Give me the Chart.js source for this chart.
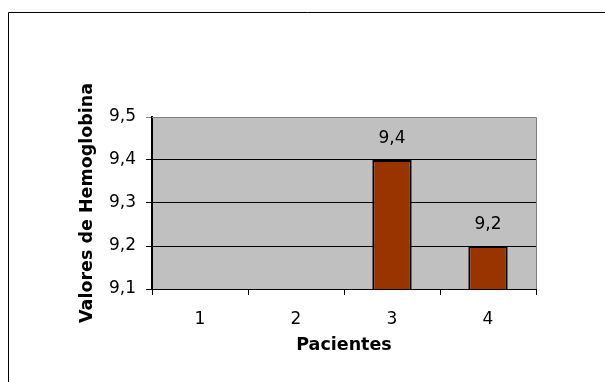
<!DOCTYPE html>
<html>
<head>
<meta charset="utf-8">
<script src="https://cdn.jsdelivr.net/npm/chart.js@4/dist/chart.umd.min.js"></script>
<style>
  html, body { margin: 0; padding: 0; background: #fff; }
  canvas { display: block; }
</style>
</head>
<body>
<canvas id="c" width="605" height="382"></canvas>
<script>
// Hemoglobin values per patient (patients 1 and 2 fall below the axis floor)
const pacientes = ['1', '2', '3', '4'];
const hemoglobina = [null, null, 9.4, 9.2];
const yMin = 9.1;
const yMax = 9.5;
const yStep = 0.1;

const FONT = "'DejaVu Sans', Verdana, sans-serif";
const fmt = v => Number(v).toFixed(1).replace('.', ',');

// Gray plot background with a gray frame, plus the outer chart frame
const frame = {
  id: 'frame',
  beforeDraw(chart) {
    const { ctx, chartArea: a } = chart;
    ctx.save();
    ctx.fillStyle = '#ffffff';
    ctx.fillRect(0, 0, chart.width, chart.height);
    ctx.fillStyle = '#c0c0c0';
    ctx.fillRect(a.left, a.top, a.right - a.left, a.bottom - a.top);
    ctx.strokeStyle = '#000';
    ctx.lineWidth = 1;
    ctx.beginPath();
    ctx.moveTo(8.5, chart.height + 2);
    ctx.lineTo(8.5, 12.5);
    ctx.lineTo(chart.width + 2, 12.5);
    ctx.stroke();
    ctx.restore();
  },
  afterDatasetsDraw(chart) {
    const { ctx, chartArea: a } = chart;
    ctx.save();
    ctx.strokeStyle = '#808080';
    ctx.lineWidth = 1;
    ctx.beginPath();
    ctx.moveTo(Math.round(a.left), Math.round(a.top) + 0.5);
    ctx.lineTo(Math.round(a.right) + 0.5, Math.round(a.top) + 0.5);
    ctx.lineTo(Math.round(a.right) + 0.5, Math.round(a.bottom));
    ctx.stroke();
    ctx.restore();
  }
};

// Value labels above each bar
const valueLabels = {
  id: 'valueLabels',
  afterDatasetsDraw(chart) {
    const { ctx } = chart;
    const meta = chart.getDatasetMeta(0);
    ctx.save();
    ctx.font = '17px ' + FONT;
    ctx.fillStyle = '#000';
    ctx.textAlign = 'center';
    ctx.textBaseline = 'alphabetic';
    meta.data.forEach((bar, i) => {
      const v = hemoglobina[i];
      if (v === null || v === undefined) return;
      ctx.fillText(fmt(v), bar.x, bar.y - 17);
    });
    ctx.restore();
  }
};

new Chart(document.getElementById('c'), {
  type: 'bar',
  data: {
    labels: pacientes,
    datasets: [{
      data: hemoglobina,
      backgroundColor: '#993300',
      borderColor: '#000000',
      borderWidth: 2,
      borderSkipped: false,
      barPercentage: 0.41,
      categoryPercentage: 1.0
    }]
  },
  options: {
    responsive: false,
    animation: false,
    devicePixelRatio: 1,
    layout: { padding: { left: 0, top: 117, right: 69, bottom: 0 } },
    plugins: {
      legend: { display: false },
      tooltip: { enabled: false }
    },
    scales: {
      x: {
        afterFit(s) { s.height = 93; },
        grid: {
          display: true,
          drawOnChartArea: false,
          drawTicks: true,
          tickLength: 6,
          offset: true,
          color: '#000'
        },
        border: { display: true, color: '#000', width: 1 },
        ticks: {
          color: '#000',
          font: { family: FONT, size: 17 },
          padding: 14,
          maxRotation: 0
        },
        title: {
          display: true,
          text: 'Pacientes',
          color: '#000',
          font: { family: FONT, size: 17.5, weight: 'bold' },
          padding: { top: 0, bottom: 26 }
        }
      },
      y: {
        min: yMin,
        max: yMax,
        afterFit(s) { s.width = 152; },
        grid: {
          drawTicks: true,
          tickLength: 6,
          color: ctx => (ctx.tick && ctx.tick.value >= yMax - 1e-6) ? '#808080' : '#000',
          lineWidth: 1
        },
        border: { display: true, color: '#000', width: 2 },
        ticks: {
          stepSize: yStep,
          color: '#000',
          font: { family: FONT, size: 17 },
          padding: 10,
          callback: v => fmt(v)
        },
        title: {
          display: true,
          text: 'Valores de Hemoglobina',
          color: '#000',
          font: { family: FONT, size: 17.5, weight: 'bold' },
          padding: { top: 77, bottom: 0 }
        }
      }
    }
  },
  plugins: [frame, valueLabels]
});
</script>
</body>
</html>
